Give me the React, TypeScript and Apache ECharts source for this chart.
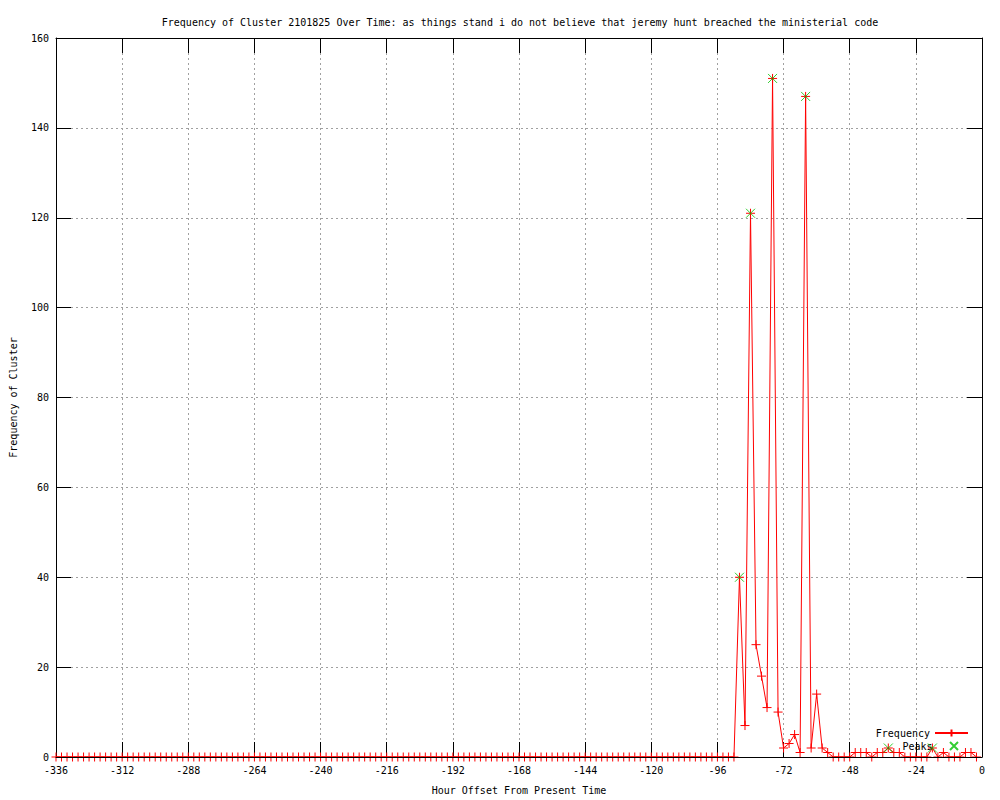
import React, { useEffect, useRef } from "react";
import * as echarts from "echarts";

const FONT = "DejaVu Sans Mono";

const titleText =
  "Frequency of Cluster 2101825 Over Time: as things stand i do not believe that jeremy hunt breached the ministerial code";
const xAxisTitle = "Hour Offset From Present Time";
const yAxisTitle = "Frequency of Cluster";

const hours = [
  -336, -334, -332, -330, -328, -326, -324, -322, -320, -318, -316, -314,
  -312, -310, -308, -306, -304, -302, -300, -298, -296, -294, -292, -290,
  -288, -286, -284, -282, -280, -278, -276, -274, -272, -270, -268, -266,
  -264, -262, -260, -258, -256, -254, -252, -250, -248, -246, -244, -242,
  -240, -238, -236, -234, -232, -230, -228, -226, -224, -222, -220, -218,
  -216, -214, -212, -210, -208, -206, -204, -202, -200, -198, -196, -194,
  -192, -190, -188, -186, -184, -182, -180, -178, -176, -174, -172, -170,
  -168, -166, -164, -162, -160, -158, -156, -154, -152, -150, -148, -146,
  -144, -142, -140, -138, -136, -134, -132, -130, -128, -126, -124, -122,
  -120, -118, -116, -114, -112, -110, -108, -106, -104, -102, -100, -98,
  -96, -94, -92, -90, -88, -86, -84, -82, -80, -78, -76, -74,
  -72, -70, -68, -66, -64, -62, -60, -58, -56, -54, -52, -50,
  -48, -46, -44, -42, -40, -38, -36, -34, -32, -30, -28, -26,
  -24, -22, -20, -18, -16, -14, -12, -10, -8, -6, -4, -2,
];

const frequency = [
  0, 0, 0, 0, 0, 0, 0, 0, 0, 0, 0, 0,
  0, 0, 0, 0, 0, 0, 0, 0, 0, 0, 0, 0,
  0, 0, 0, 0, 0, 0, 0, 0, 0, 0, 0, 0,
  0, 0, 0, 0, 0, 0, 0, 0, 0, 0, 0, 0,
  0, 0, 0, 0, 0, 0, 0, 0, 0, 0, 0, 0,
  0, 0, 0, 0, 0, 0, 0, 0, 0, 0, 0, 0,
  0, 0, 0, 0, 0, 0, 0, 0, 0, 0, 0, 0,
  0, 0, 0, 0, 0, 0, 0, 0, 0, 0, 0, 0,
  0, 0, 0, 0, 0, 0, 0, 0, 0, 0, 0, 0,
  0, 0, 0, 0, 0, 0, 0, 0, 0, 0, 0, 0,
  0, 0, 0, 0, 40, 7, 121, 25, 18, 11, 151, 10,
  2, 3, 5, 1, 147, 2, 14, 2, 1, 0, 0, 0,
  0, 1, 1, 1, 0, 1, 1, 2, 1, 1, 0, 0,
  0, 0, 0, 2, 0, 1, 0, 0, 0, 1, 1, 0,
];

const peakHours = [-88, -84, -76, -64, -34, -18];
const peakValues = [40, 121, 151, 147, 2, 2];

const PLUS = "path://M5,0L5,10M0,5L10,5";
const CROSS = "path://M0,0L10,10M0,10L10,0";

export default function App() {
  const ref = useRef<HTMLDivElement>(null);

  useEffect(() => {
    document.body.style.margin = "0";
    if (!ref.current) return;
    const chart = echarts.init(ref.current, null, { renderer: "svg" });

    const axisText = { fontSize: 10, fontFamily: FONT, color: "#000" };
    const tick = { show: true, inside: true, length: 15, lineStyle: { color: "#000", width: 1 } };
    const black = { show: true, onZero: false, lineStyle: { color: "#000", width: 1 } };
    const noLine = { show: false, onZero: false };
    const grid = { show: true, lineStyle: { color: "#a0a0a0", type: [2, 3], width: 1 } };

    const option: any = {
      animation: false,
      backgroundColor: "#fff",
      textStyle: { fontFamily: FONT },
      title: {
        text: titleText,
        left: 515,
        top: 12,
        textAlign: "center",
        textStyle: { fontSize: 10, fontWeight: "normal", color: "#000", fontFamily: FONT },
      },
      grid: { left: 55, right: 18, top: 38, bottom: 40 },
      legend: [
        {
          data: [{ name: "Frequency" }],
          right: 31,
          top: 728,
          align: "right",
          itemWidth: 33,
          itemHeight: 9,
          padding: 0,
          textStyle: axisText,
        },
        {
          data: [{ name: "Peaks", icon: CROSS }],
          right: 41,
          top: 741,
          align: "right",
          itemWidth: 33,
          itemHeight: 8,
          padding: 0,
          textStyle: axisText,
        },
      ],
      xAxis: [
        {
          type: "value",
          position: "bottom",
          min: -336,
          max: 0,
          interval: 24,
          name: xAxisTitle,
          nameLocation: "middle",
          nameGap: 28,
          nameTextStyle: axisText,
          axisLine: noLine,
          axisTick: tick,
          axisLabel: { ...axisText, margin: 8 },
          splitLine: grid,
        },
        {
          type: "value",
          position: "top",
          min: -336,
          max: 0,
          interval: 24,
          z: 10,
          axisLine: black,
          axisTick: tick,
          axisLabel: { show: false },
          splitLine: { show: false },
        },
        {
          type: "value",
          position: "bottom",
          min: -336,
          max: 0,
          interval: 24,
          z: 10,
          axisLine: black,
          axisTick: { show: false },
          axisLabel: { show: false },
          splitLine: { show: false },
        },
      ],
      yAxis: [
        {
          type: "value",
          position: "left",
          min: 0,
          max: 160,
          interval: 20,
          name: yAxisTitle,
          nameLocation: "middle",
          nameGap: 38,
          nameRotate: 90,
          nameTextStyle: axisText,
          axisLine: black,
          axisTick: tick,
          axisLabel: { ...axisText, margin: 7 },
          splitLine: grid,
        },
        {
          type: "value",
          position: "right",
          min: 0,
          max: 160,
          interval: 20,
          z: 10,
          axisLine: black,
          axisTick: tick,
          axisLabel: { show: false },
          splitLine: { show: false },
        },
      ],
      series: [
        {
          name: "Frequency",
          type: "line",
          xAxisIndex: 0,
          yAxisIndex: 0,
          data: hours.map((h, i) => [h, frequency[i]]),
          symbol: PLUS,
          symbolSize: 9,
          showAllSymbol: true,
          lineStyle: { color: "#ff0000", width: 1 },
          itemStyle: { color: "#ff0000", borderColor: "#ff0000", borderWidth: 1 },
          z: 3,
        },
        {
          name: "Peaks",
          type: "scatter",
          xAxisIndex: 0,
          yAxisIndex: 0,
          data: peakHours.map((h, i) => [h, peakValues[i]]),
          symbol: CROSS,
          symbolSize: 9,
          itemStyle: { color: "#00c000", borderColor: "#00c000", borderWidth: 1 },
          z: 6,
        },
      ],
    };

    chart.setOption(option);
    return () => chart.dispose();
  }, []);

  return <div ref={ref} style={{ width: 1000, height: 800 }} />;
}
